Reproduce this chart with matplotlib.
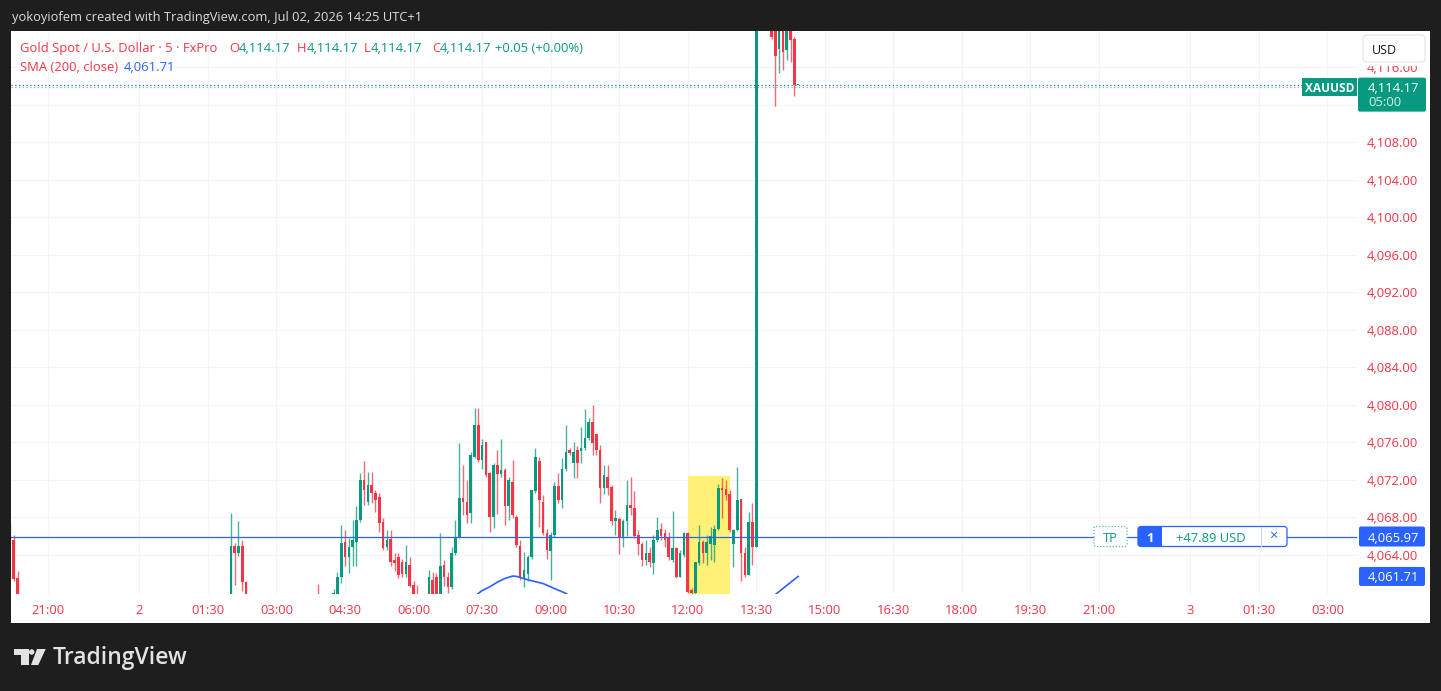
import numpy as np
import matplotlib.pyplot as plt
from matplotlib.patches import Rectangle, FancyBboxPatch, Circle, Polygon

plt.rcParams['font.family'] = ['Open Sans', 'DejaVu Sans']

W, H = 1441, 691
RED = '#f23645'
GREEN = '#089981'
BLUE = '#2962ff'
FS = 9.4  # ~13px text
DY = 1.5  # digits sit a bit low of the text box centre

# 5-minute bars; index 0 = 21:00 on day 1 (market close gap removed)
# only bars that show inside the visible price window are listed
bar_idx = ([-10, -9, -8, 48, 49, 50, 51, 52, 71]
           + list(range(75, 98)) + list(range(100, 198)))

opens = [4067.0, 4065.6, 4061.5,
         4058.5, 4065.0, 4064.2, 4065.0, 4061.1,
         4059.8,
         4059.0, 4059.5, 4061.7, 4065.4, 4063.8, 4064.9, 4065.4, 4067.7, 4072.0, 4069.7,
         4071.5, 4070.6, 4070.2, 4067.5, 4064.9, 4065.7, 4063.5, 4063.8, 4063.3, 4062.0,
         4062.9, 4060.8, 4059.6,
         4059.5, 4061.3, 4061.7, 4059.7, 4062.9, 4061.7, 4060.6, 4064.2, 4065.96, 4070.05,
         4069.7, 4068.45, 4074.5, 4077.9, 4074.1, 4076.0, 4072.7, 4068.0, 4073.6, 4072.6,
         4073.1, 4069.2, 4071.8, 4068.1, 4065.0, 4061.5, 4062.0, 4063.8, 4070.8, 4074.0,
         4069.7, 4066.3, 4064.4, 4066.1, 4071.4, 4069.9, 4073.2, 4075.2, 4073.8, 4075.2,
         4075.1, 4075.4, 4076.45, 4078.2, 4076.9, 4075.2, 4071.1, 4072.3, 4071.3, 4067.6,
         4067.8, 4065.8, 4067.6, 4069.3, 4069.0, 4066.1, 4065.2, 4063.5, 4064.2, 4063.1,
         4065.6, 4066.8, 4066.3, 4065.8, 4063.5, 4064.7, 4061.7, 4064.0, 4066.3, 4060.3,
         4059.9, 4063.1, 4065.4, 4064.2, 4065.2, 4065.1, 4066.8, 4071.1, 4071.0, 4070.5,
         4065.2, 4066.7, 4070.0, 4064.2, 4061.9, 4067.5, 4064.9, 4128.0, 4126.0, 4125.0,
         4123.0, 4121.5, 4118.0, 4121.5, 4117.9, 4121.2, 4119.0, 4114.17]

highs = [4067.4, 4066.1, 4062.3,
         4068.5, 4065.3, 4067.6, 4065.6, 4061.2,
         4060.9,
         4060.4, 4062.2, 4067.2, 4066.7, 4065.8, 4067.7, 4069.2, 4072.7, 4074.0, 4072.9,
         4072.9, 4070.9, 4070.6, 4067.9, 4066.7, 4066.7, 4064.2, 4064.2, 4063.6, 4065.1,
         4063.8, 4061.2, 4060.8,
         4062.4, 4062.2, 4062.1, 4066.3, 4063.5, 4062.2, 4064.9, 4067.7, 4075.9, 4073.6,
         4072.0, 4075.0, 4079.65, 4079.65, 4076.4, 4076.1, 4072.9, 4073.8, 4075.2, 4076.4,
         4073.3, 4072.3, 4074.1, 4068.3, 4065.6, 4064.3, 4064.0, 4070.9, 4075.4, 4074.5,
         4070.4, 4066.8, 4066.5, 4071.8, 4072.7, 4074.3, 4077.9, 4075.4, 4076.1, 4075.6,
         4077.7, 4079.6, 4078.6, 4080.0, 4076.9, 4075.7, 4073.6, 4073.6, 4071.5, 4068.8,
         4068.1, 4067.8, 4072.0, 4072.3, 4070.8, 4066.7, 4065.4, 4065.6, 4064.9, 4066.1,
         4068.1, 4067.4, 4066.8, 4066.5, 4068.7, 4064.9, 4064.5, 4066.5, 4066.5, 4060.5,
         4063.3, 4067.2, 4065.6, 4066.1, 4067.0, 4067.2, 4071.6, 4072.2, 4072.0, 4070.9,
         4066.8, 4073.4, 4070.0, 4064.9, 4068.6, 4069.5, 4130.0, 4131.0, 4129.0, 4127.0,
         4124.0, 4122.0, 4122.5, 4122.0, 4122.0, 4121.5, 4119.3, 4114.17]

lows = [4065.5, 4061.2, 4058.0,
        4058.0, 4060.8, 4063.9, 4060.2, 4058.0,
        4058.5,
        4058.8, 4059.0, 4061.0, 4062.8, 4062.1, 4062.8, 4062.8, 4067.5, 4069.3, 4069.3,
        4069.5, 4068.6, 4066.5, 4064.5, 4064.5, 4062.8, 4062.3, 4061.5, 4061.7, 4061.6,
        4060.6, 4059.2, 4058.5,
        4059.0, 4059.2, 4059.3, 4059.5, 4060.7, 4059.9, 4060.4, 4064.0, 4065.8, 4068.3,
        4067.4, 4067.4, 4074.3, 4073.95, 4073.2, 4072.3, 4066.5, 4066.9, 4068.4, 4072.3,
        4067.2, 4067.7, 4067.9, 4064.9, 4061.3, 4060.6, 4061.2, 4063.6, 4070.6, 4067.0,
        4066.1, 4063.6, 4061.3, 4065.95, 4069.5, 4069.0, 4073.0, 4074.7, 4072.2, 4072.2,
        4073.8, 4075.2, 4076.3, 4074.7, 4074.7, 4069.5, 4070.5, 4070.4, 4067.2, 4066.1,
        4064.1, 4064.9, 4066.0, 4068.3, 4065.8, 4064.05, 4062.8, 4062.9, 4062.75, 4062.0,
        4065.4, 4065.6, 4064.9, 4063.5, 4063.3, 4061.5, 4061.7, 4063.8, 4059.9, 4059.5,
        4059.5, 4062.9, 4063.1, 4062.9, 4063.5, 4063.3, 4066.7, 4067.9, 4069.9, 4066.5,
        4062.75, 4066.6, 4061.2, 4061.7, 4061.9, 4062.9, 4064.8, 4123.0, 4122.5, 4121.0,
        4119.0, 4111.9, 4115.4, 4115.7, 4116.8, 4116.6, 4113.0, 4114.17]

closes = [4065.8, 4061.4, 4058.5,
          4065.0, 4064.2, 4065.0, 4061.1, 4058.5,
          4059.0,
          4059.9, 4061.7, 4065.3, 4063.8, 4064.9, 4065.6, 4067.7, 4072.0, 4070.9, 4071.5,
          4070.6, 4069.9, 4067.4, 4064.7, 4065.6, 4063.3, 4063.1, 4061.9, 4062.0, 4063.2,
          4060.7, 4059.6, 4059.0,
          4061.6, 4059.6, 4059.7, 4062.8, 4061.7, 4060.6, 4064.2, 4065.96, 4070.05, 4069.7,
          4068.3, 4074.67, 4077.9, 4074.1, 4075.7, 4072.5, 4068.0, 4073.6, 4072.6, 4073.1,
          4069.2, 4072.0, 4068.3, 4065.1, 4061.5, 4062.4, 4063.8, 4070.9, 4074.4, 4069.9,
          4066.3, 4064.5, 4066.1, 4071.4, 4069.9, 4073.2, 4075.0, 4074.9, 4075.0, 4073.8,
          4075.45, 4076.45, 4078.2, 4075.9, 4075.2, 4071.1, 4072.5, 4071.1, 4067.6, 4067.9,
          4065.8, 4067.6, 4069.3, 4069.0, 4066.0, 4065.2, 4063.5, 4064.2, 4063.3, 4065.6,
          4066.7, 4066.0, 4065.6, 4063.8, 4064.7, 4061.7, 4064.2, 4066.3, 4060.1, 4059.9,
          4063.2, 4065.4, 4064.2, 4065.4, 4066.0, 4066.8, 4071.1, 4070.9, 4070.4, 4066.7,
          4066.7, 4069.9, 4064.2, 4061.9, 4067.5, 4064.9, 4128.0, 4126.0, 4125.0, 4123.0,
          4119.2, 4117.2, 4121.5, 4117.65, 4121.2, 4118.9, 4114.12, 4114.17]

# SMA(200) visible pieces
sma_a_bars = [112, 113, 114, 116, 118, 120, 122, 123, 124, 126, 128, 130, 132, 134, 136, 137]
sma_a_vals = [4059.5, 4059.9, 4060.2, 4060.6, 4061.1, 4061.5, 4061.75, 4061.72, 4061.6,
              4061.35, 4061.15, 4060.95, 4060.6, 4060.25, 4059.9, 4059.6]
sma_b_bars = [188, 190, 192, 194, 196, 197]
sma_b_vals = [4058.8, 4059.45, 4060.1, 4060.75, 4061.4, 4061.71]

highlight_from, highlight_to, highlight_top = 168, 179, 4072.4
position_price = 4065.97
position_pnl = '+47.89 USD'

time_tick_bars = [0, 24, 42, 60, 78, 96, 114, 132, 150, 168, 186, 204, 222, 240,
                  258, 276, 300, 318, 336]
time_tick_labels = ['21:00', '2', '01:30', '03:00', '04:30', '06:00', '07:30', '09:00',
                    '10:30', '12:00', '13:30', '15:00', '16:30', '18:00', '19:30',
                    '21:00', '3', '01:30', '03:00']
price_ticks = [4064, 4068, 4072, 4076, 4080, 4084, 4088, 4092, 4096, 4100, 4104,
               4108, 4112, 4116]

o = np.array(opens)
hi = np.array(highs)
lo = np.array(lows)
c = np.array(closes)
up = c >= o
cols = np.where(up, GREEN, RED)

fig = plt.figure(figsize=(W / 100, H / 100), dpi=100)
fig.patch.set_facecolor('#1e1e1e')

# background panel (pixel coords)
bg = fig.add_axes([0, 0, 1, 1], zorder=-1)
bg.set_xlim(0, W)
bg.set_ylim(H, 0)
bg.axis('off')
bg.add_patch(Rectangle((11, 31), 1419, 592, facecolor='white', edgecolor='none'))

# main price pane
ax = fig.add_axes([11 / W, 1 - 593.5 / H, 1346 / W, 562.5 / H], zorder=0)
ax.set_xlim(-9.72, 343.75)
ax.set_ylim(4059.89, 4119.89)
ax.axis('off')

for b in time_tick_bars:
    ax.axvline(b, color='#f3f4f7', lw=0.8, zorder=0)
for p in price_ticks:
    ax.axhline(p, color='#f3f4f7', lw=0.8, zorder=0)

ax.add_patch(Rectangle((highlight_from, 4040), highlight_to - highlight_from,
                       highlight_top - 4040, facecolor='#fff176', edgecolor='none', zorder=1))

ax.vlines(bar_idx, lo, hi, colors=cols, linewidth=1.0, alpha=0.75, zorder=3)
ax.bar(bar_idx, np.maximum(np.abs(c - o), 0.08), bottom=np.minimum(o, c), width=0.68,
       color=cols, linewidth=0, zorder=4)

ax.plot(sma_a_bars, sma_a_vals, color=BLUE, lw=1.2, zorder=5)
ax.plot(sma_b_bars, sma_b_vals, color=BLUE, lw=1.2, zorder=5)

ax.axhline(position_price, color=BLUE, lw=0.9, zorder=5)
ax.axhline(c[-1], color=GREEN, lw=0.9, ls=(0, (1, 2)), zorder=2)
ax.axhline(c[-1] - 0.2, color='#a59be0', lw=0.9, ls=(0, (1, 2)), zorder=2)


def price_y(p):
    return H - ax.transData.transform((0, p))[1]


def bar_x(b):
    return ax.transData.transform((b, 0))[0]


# overlay in pixel coords
ov = fig.add_axes([0, 0, 1, 1], zorder=1)
ov.set_xlim(0, W)
ov.set_ylim(H, 0)
ov.axis('off')
renderer = fig.canvas.get_renderer()


def runs(x, y, parts, size=FS):
    for txt, col in parts:
        t = ov.text(x, y + DY, txt, color=col, fontsize=size, ha='left', va='center', zorder=6)
        x += t.get_window_extent(renderer=renderer).width


ov.text(12, 16 + DY, 'yokoyiofem created with TradingView.com, Jul 02, 2026 14:25 UTC+1',
        color='#dcdcdc', fontsize=9.3, ha='left', va='center')

val = lambda v: f'{v:,.2f}'
chg = c[-1] - c[-2]
runs(20, 47, [('Gold Spot / U.S. Dollar · 5 · FxPro', RED)])
runs(229, 47, [('O', RED), (val(o[-1]), GREEN)])
runs(297, 47, [('H', RED), (val(hi[-1]), GREEN)])
runs(364, 47, [('L', RED), (val(lo[-1]), GREEN)])
runs(432, 47, [('C', RED), (val(c[-1]), GREEN)])
runs(495, 47, [(f'{chg:+.2f} ({chg / c[-2] * 100:+.2f}%)', GREEN)])
runs(20, 66, [('SMA (200, close)', RED)])
runs(124, 66, [(val(sma_b_vals[-1]), BLUE)])

# time axis
for b, lab in zip(time_tick_bars, time_tick_labels):
    ov.text(bar_x(b), 609 + DY, lab, color=RED, fontsize=FS, ha='center', va='center')

# price axis (4,112.00 sits under the last-price label, so it is not written)
yl = price_y(c[-1])
for p in price_ticks:
    if abs(price_y(p) - (yl + 10)) < 17:
        continue
    ov.text(1367, price_y(p) + DY, val(p), color=RED, fontsize=FS, ha='left', va='center',
            zorder=2)

# currency button
ov.add_patch(Rectangle((1358, 31), 72, 35, facecolor='white', edgecolor='none', zorder=3))
ov.add_patch(FancyBboxPatch((1363, 35), 62, 27, boxstyle='round,pad=0,rounding_size=4',
                            facecolor='white', edgecolor='#e0e3eb', lw=0.8, zorder=4))
ov.text(1372, 48.5 + DY, 'USD', color='#131722', fontsize=9.0, ha='left', va='center', zorder=5)

# last price labels
ov.add_patch(Rectangle((1302, yl - 7), 55, 18, facecolor=GREEN, edgecolor='none', zorder=4))
ov.text(1329.5, yl + 2 + DY, 'XAUUSD', color='white', fontsize=8.6, fontweight='bold',
        ha='center', va='center', zorder=5)
ov.add_patch(FancyBboxPatch((1358, yl - 7), 68, 34, boxstyle='round,pad=0,rounding_size=2',
                            facecolor=GREEN, edgecolor='none', zorder=4))
ov.text(1368, yl + 2 + DY, val(c[-1]), color='white', fontsize=FS, ha='left', va='center',
        zorder=5)
ov.text(1368, yl + 16 + DY, '05:00', color='#d8f0ea', fontsize=FS, ha='left', va='center',
        zorder=5)

# SMA value label
ys = price_y(sma_b_vals[-1])
ov.add_patch(FancyBboxPatch((1359, ys - 9.5), 66, 19, boxstyle='round,pad=0,rounding_size=2',
                            facecolor=BLUE, edgecolor='none', zorder=4))
ov.text(1368, ys + DY, val(sma_b_vals[-1]), color='white', fontsize=FS, ha='left',
        va='center', zorder=5)

# position line labels
yp = price_y(position_price)
ov.add_patch(FancyBboxPatch((1359, yp - 10), 66, 20, boxstyle='round,pad=0,rounding_size=2',
                            facecolor=BLUE, edgecolor='none', zorder=4))
ov.text(1368, yp + DY, val(position_price), color='white', fontsize=FS, ha='left',
        va='center', zorder=5)

ov.add_patch(FancyBboxPatch((1094, yp - 10), 33, 20, boxstyle='round,pad=0,rounding_size=2',
                            facecolor='white', edgecolor='#56b9a6', lw=0.9, ls=(0, (1, 1.5)),
                            zorder=4))
ov.text(1110.5, yp + DY, 'TP', color=GREEN, fontsize=FS, ha='center', va='center', zorder=5)

ov.add_patch(FancyBboxPatch((1138, yp - 10), 149, 20, boxstyle='round,pad=0,rounding_size=3',
                            facecolor='white', edgecolor=BLUE, lw=0.9, zorder=4))
ov.add_patch(FancyBboxPatch((1138, yp - 10), 24, 20, boxstyle='round,pad=0,rounding_size=3',
                            facecolor=BLUE, edgecolor='none', zorder=4.5))
ov.add_patch(Rectangle((1155, yp - 10), 7, 20, facecolor=BLUE, edgecolor='none', zorder=4.5))
ov.text(1150, yp + DY, '1', color='white', fontsize=FS, fontweight='bold', ha='center',
        va='center', zorder=5)
ov.text(1211, yp + DY, position_pnl, color=GREEN, fontsize=FS, ha='center', va='center',
        zorder=5)
ov.plot([1261, 1261], [yp - 9.5, yp + 9.5], color='#c9d6ff', lw=0.8, zorder=5)
ov.text(1273.5, yp, '×', color=BLUE, fontsize=10.5, ha='center', va='center', zorder=5)

# watermark logo
LOGO = '#e3e3e3'
ov.add_patch(Polygon([(13.5, 649), (28.5, 649), (28.5, 665), (21, 665), (21, 655), (13.5, 655)],
                     closed=True, facecolor=LOGO, edgecolor='none'))
ov.add_patch(Circle((31.7, 652), 2.7, facecolor=LOGO, edgecolor='none'))
ov.add_patch(Polygon([(37, 649), (45.7, 649), (38.3, 665), (31, 665)],
                     closed=True, facecolor=LOGO, edgecolor='none'))
ov.text(53, 657.5, 'TradingView', color=LOGO, fontsize=16.5, fontweight='semibold',
        ha='left', va='center')

fig.savefig('out.png', dpi=100, facecolor=fig.get_facecolor())
